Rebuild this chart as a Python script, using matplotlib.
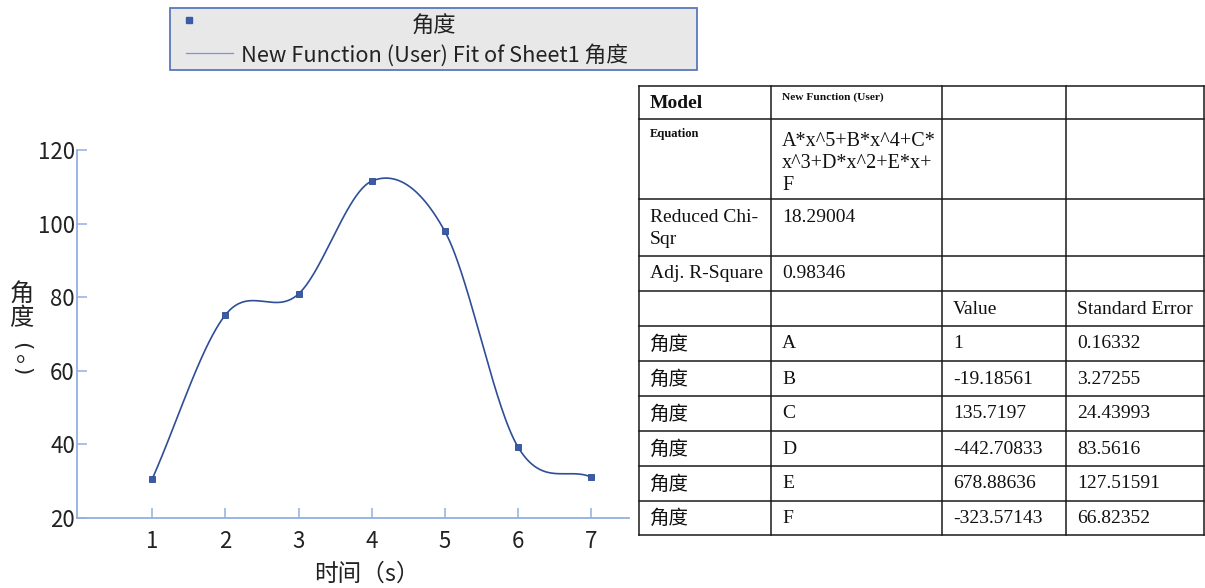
import numpy as np
import matplotlib
matplotlib.use("Agg")
import matplotlib.pyplot as plt
from matplotlib.patches import Rectangle

plt.rcParams['font.family'] = ['Noto Sans CJK SC', 'DejaVu Sans']

# ---- measured data ----
time_s = [1, 2, 3, 4, 5, 6, 7]
angle_deg = [30.6, 75.2, 80.9, 111.6, 98.0, 39.3, 31.1]
x_ticks = [1, 2, 3, 4, 5, 6, 7]
y_ticks = [20, 40, 60, 80, 100, 120]

# ---- fit report ----
model_name = "New Function (User)"
equation_lines = ["A*x^5+B*x^4+C*", "x^3+D*x^2+E*x+", "F"]
reduced_chi_sqr = "18.29004"
adj_r_square = "0.98346"
param_names = ["A", "B", "C", "D", "E", "F"]
param_values = ["1", "-19.18561", "135.7197", "-442.70833", "678.88636", "-323.57143"]
param_errors = ["0.16332", "3.27255", "24.43993", "83.5616", "127.51591", "66.82352"]
series_name = "角度"


def smooth_curve(x, y, samples=80):
    """Cubic Hermite (Catmull-Rom style) curve through the points."""
    x = np.asarray(x, float)
    y = np.asarray(y, float)
    m = np.empty_like(y)
    m[1:-1] = (y[2:] - y[:-2]) / (x[2:] - x[:-2])
    m[0] = (y[1] - y[0]) / (x[1] - x[0])
    m[-1] = (y[-1] - y[-2]) / (x[-1] - x[-2])
    xs, ys = [], []
    for i in range(len(x) - 1):
        h = x[i + 1] - x[i]
        t = np.linspace(0, 1, samples, endpoint=(i == len(x) - 2))
        h00 = 2 * t**3 - 3 * t**2 + 1
        h10 = t**3 - 2 * t**2 + t
        h01 = -2 * t**3 + 3 * t**2
        h11 = t**3 - t**2
        xs.append(x[i] + t * h)
        ys.append(h00 * y[i] + h10 * h * m[i] + h01 * y[i + 1] + h11 * h * m[i + 1])
    return np.concatenate(xs), np.concatenate(ys)


W, H = 1205, 588
fig = plt.figure(figsize=(W / 100, H / 100), dpi=100)
fig.patch.set_facecolor('white')

axis_blue = '#93afe2'
point_blue = '#3a5ba6'
curve_blue = '#2e4e98'
text_col = '#222222'

# ---- chart ----
ax = fig.add_axes([77 / W, 1 - 517.7 / H, (629 - 77) / W, (517.7 - 150.3) / H])
ax.set_xlim(-0.03, 7.52)
ax.set_ylim(20, 120)
cx, cy = smooth_curve(time_s, angle_deg)
ax.plot(cx, cy, color=curve_blue, lw=1.2, zorder=2)
ax.plot(time_s, angle_deg, 's', ms=4.4, color=point_blue,
        markeredgecolor='#2c4a92', markeredgewidth=0.6, zorder=3)
ax.set_xticks(x_ticks)
ax.set_yticks(y_ticks)
for side in ('top', 'right'):
    ax.spines[side].set_visible(False)
for side in ('left', 'bottom'):
    ax.spines[side].set_color(axis_blue)
    ax.spines[side].set_linewidth(1.3)
ax.tick_params(direction='in', length=7.5, width=1.1, color=axis_blue,
               labelsize=16, labelcolor=text_col)
ax.tick_params(axis='y', pad=1.5)
ax.tick_params(axis='x', pad=8.5)

# ---- overlay in pixel coordinates for legend, labels and table ----
ov = fig.add_axes([0, 0, 1, 1], facecolor='none')
ov.set_xlim(0, W)
ov.set_ylim(H, 0)
ov.axis('off')

# axis titles
ov.text(367, 574, "时间（s）", ha='center', va='center', fontsize=17, color=text_col)
# vertical y title written top to bottom: upright ideographs, turned brackets
ov.text(21.5, 294, "角", ha='center', va='center', fontsize=17.5, color=text_col)
ov.text(21.5, 318, "度", ha='center', va='center', fontsize=17.5, color=text_col)
ov.text(21.5, 346, "(", ha='center', va='center', fontsize=15.5, rotation=-90,
        rotation_mode='anchor', family='DejaVu Sans', color=text_col)
ov.text(28.5, 354, "。", ha='center', va='center', fontsize=17.5, color=text_col)
ov.text(21.5, 371, ")", ha='center', va='center', fontsize=15.5, rotation=-90,
        rotation_mode='anchor', family='DejaVu Sans', color=text_col)

# legend box
ov.add_patch(Rectangle((170, 8), 527, 62, facecolor='#e8e8e8',
                       edgecolor='#5a78b8', lw=1.3))
ov.plot([188.5], [20], 's', ms=4, color=point_blue)
ov.plot([186, 233], [52.5, 52.5], color='#7b97d3', lw=0.9)
ov.text(433.5, 26, series_name, ha='center', va='center', fontsize=16, color=text_col)
ov.text(241, 55, "New Function (User) Fit of Sheet1 " + series_name,
        ha='left', va='center', fontsize=15.7, color=text_col)

# fit report table
cols = [639, 771, 942, 1066, 1204]
rows = [86, 119, 199, 256, 291, 326, 361, 396, 431, 466, 501, 535]
line_kw = dict(color='#1a1a1a', lw=1.1)
for yy in rows:
    ov.plot([cols[0], cols[-1]], [yy, yy], **line_kw)
for xx in cols:
    ov.plot([xx, xx], [rows[0], rows[-1]], **line_kw)

serif = ['Liberation Serif', 'Noto Sans CJK SC']
tkw = dict(ha='left', va='center', color='#111111', family=serif)
pad = 11
ov.text(cols[0] + pad, 103, "Model", fontsize=14, fontweight='bold', **tkw)
ov.text(cols[1] + pad, 97.5, model_name, fontsize=8.2, fontweight='bold', **tkw)
ov.text(cols[0] + pad, 133.5, "Equation", fontsize=9, fontweight='bold', **tkw)
for k, line in enumerate(equation_lines):
    ov.text(cols[1] + pad, 142 + 21.5 * k, line, fontsize=14.5, **tkw)
ov.text(cols[0] + pad, 217, "Reduced Chi-", fontsize=14, **tkw)
ov.text(cols[0] + pad, 240, "Sqr", fontsize=14, **tkw)
ov.text(cols[1] + pad, 217, reduced_chi_sqr, fontsize=14, **tkw)
ov.text(cols[0] + pad, 274, "Adj. R-Square", fontsize=14, **tkw)
ov.text(cols[1] + pad, 274, adj_r_square, fontsize=14, **tkw)
ov.text(cols[2] + pad, 309, "Value", fontsize=14, **tkw)
ov.text(cols[3] + pad, 309, "Standard Error", fontsize=14, **tkw)
for i, (nm, val, err) in enumerate(zip(param_names, param_values, param_errors)):
    yc = (rows[5 + i] + rows[6 + i]) / 2 + 0.5
    ov.text(cols[0] + pad, yc, series_name, fontsize=14, ha='left', va='center',
            color='#111111', family=['Noto Sans CJK SC', 'DejaVu Sans'])
    ov.text(cols[1] + pad, yc, nm, fontsize=14, **tkw)
    ov.text(cols[2] + pad, yc, val, fontsize=14, **tkw)
    ov.text(cols[3] + pad, yc, err, fontsize=14, **tkw)

fig.savefig("out.png", dpi=100)
